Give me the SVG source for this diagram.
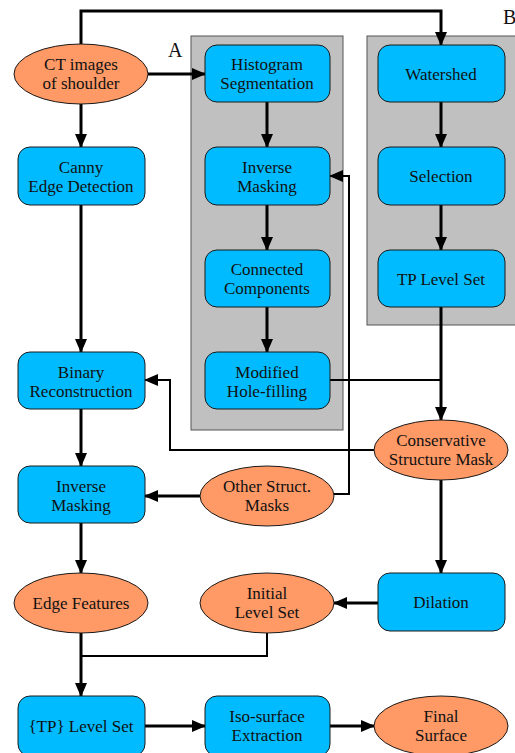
<svg xmlns="http://www.w3.org/2000/svg" width="515" height="753" viewBox="0 0 515 753" font-family="'Liberation Serif', 'Times New Roman', serif">
<style>
.box{fill:#00BBFF;stroke:#1a1a1a;stroke-width:1}
.ell{fill:#FF9966;stroke:#1a1a1a;stroke-width:1}
.grp{fill:#C0C0C0;stroke:#555;stroke-width:1}
text{font-family:"Liberation Serif","Times New Roman",serif;font-size:17px;fill:#111;text-anchor:middle}
.lbl{font-size:20px;text-anchor:start}
.c{fill:none;stroke:#000;stroke-width:3}
.t{fill:none;stroke:#000;stroke-width:2}
</style>
<defs>
<marker id="ah" markerUnits="userSpaceOnUse" markerWidth="14" markerHeight="12" refX="13" refY="6" orient="auto">
<path d="M0,0 L14,6 L0,12 Z" fill="#000"/>
</marker>
</defs>
<rect width="515" height="753" fill="#fff"/>
<g id="groupA"><rect class="grp" x="191" y="36" width="152" height="394"/><text class="lbl" x="168" y="57">A</text></g>
<g id="groupB"><rect class="grp" x="367" y="36" width="152" height="289"/><text class="lbl" x="503" y="24">B</text></g>
<g id="connectors">
<polyline class="c" points="81,44 81,11 441,11 441,45" marker-end="url(#ah)"/>
<line class="c" x1="148" y1="74" x2="205" y2="74" marker-end="url(#ah)"/>
<line class="c" x1="81" y1="104" x2="81" y2="147" marker-end="url(#ah)"/>
<line class="c" x1="81" y1="205" x2="81" y2="352" marker-end="url(#ah)"/>
<line class="c" x1="81" y1="409" x2="81" y2="466" marker-end="url(#ah)"/>
<line class="c" x1="81" y1="523" x2="81" y2="573" marker-end="url(#ah)"/>
<line class="c" x1="81" y1="633" x2="81" y2="696" marker-end="url(#ah)"/>
<polyline class="t" points="267,633 267,656 81,656"/>
<line class="c" x1="145" y1="726" x2="205" y2="726" marker-end="url(#ah)"/>
<line class="c" x1="330" y1="726" x2="374" y2="726" marker-end="url(#ah)"/>
<line class="c" x1="267" y1="102" x2="267" y2="147" marker-end="url(#ah)"/>
<line class="c" x1="267" y1="205" x2="267" y2="250" marker-end="url(#ah)"/>
<line class="c" x1="267" y1="307" x2="267" y2="352" marker-end="url(#ah)"/>
<line class="c" x1="441" y1="102" x2="441" y2="147" marker-end="url(#ah)"/>
<line class="c" x1="441" y1="205" x2="441" y2="250" marker-end="url(#ah)"/>
<line class="c" x1="441" y1="307" x2="441" y2="420" marker-end="url(#ah)"/>
<line class="t" x1="330" y1="380" x2="441" y2="380"/>
<polyline class="t" points="374,450 170,450 170,380 145,380" marker-end="url(#ah)"/>
<line class="c" x1="441" y1="480" x2="441" y2="573" marker-end="url(#ah)"/>
<line class="c" x1="378" y1="603" x2="334" y2="603" marker-end="url(#ah)"/>
<line class="c" x1="200" y1="496" x2="145" y2="496" marker-end="url(#ah)"/>
<polyline class="t" points="334,494 349,494 349,176 330,176" marker-end="url(#ah)"/>
</g>
<g id="ct"><ellipse class="ell" cx="81" cy="74" rx="67" ry="30"/><text x="81" y="70">CT images</text><text x="81" y="89">of shoulder</text></g>
<g id="canny"><rect class="box" x="18" y="147" width="127" height="58" rx="12"/><text x="81" y="173">Canny</text><text x="81" y="192">Edge Detection</text></g>
<g id="binrec"><rect class="box" x="18" y="352" width="127" height="57" rx="12"/><text x="81" y="378">Binary</text><text x="81" y="397">Reconstruction</text></g>
<g id="invmask1"><rect class="box" x="18" y="466" width="127" height="57" rx="12"/><text x="81" y="492">Inverse</text><text x="81" y="511">Masking</text></g>
<g id="edgefeat"><ellipse class="ell" cx="81" cy="603" rx="67" ry="30"/><text x="81" y="609">Edge Features</text></g>
<g id="tplevel"><rect class="box" x="18" y="696" width="127" height="60" rx="12"/><text x="81" y="732">{TP} Level Set</text></g>
<g id="hist"><rect class="box" x="205" y="45" width="125" height="57" rx="12"/><text x="267" y="70">Histogram</text><text x="267" y="89">Segmentation</text></g>
<g id="invmask2"><rect class="box" x="205" y="147" width="125" height="58" rx="12"/><text x="267" y="173">Inverse</text><text x="267" y="192">Masking</text></g>
<g id="conncomp"><rect class="box" x="205" y="250" width="125" height="57" rx="12"/><text x="267" y="275">Connected</text><text x="267" y="294">Components</text></g>
<g id="holefill"><rect class="box" x="205" y="352" width="125" height="57" rx="12"/><text x="267" y="378">Modified</text><text x="267" y="397">Hole-filling</text></g>
<g id="other"><ellipse class="ell" cx="267" cy="496" rx="67" ry="30"/><text x="267" y="492">Other Struct.</text><text x="267" y="511">Masks</text></g>
<g id="initls"><ellipse class="ell" cx="267" cy="603" rx="67" ry="30"/><text x="267" y="599">Initial</text><text x="267" y="618">Level Set</text></g>
<g id="iso"><rect class="box" x="205" y="696" width="125" height="60" rx="12"/><text x="267" y="722">Iso-surface</text><text x="267" y="741">Extraction</text></g>
<g id="watershed"><rect class="box" x="378" y="45" width="127" height="57" rx="12"/><text x="441" y="80">Watershed</text></g>
<g id="selection"><rect class="box" x="378" y="147" width="127" height="58" rx="12"/><text x="441" y="182">Selection</text></g>
<g id="tpls"><rect class="box" x="378" y="250" width="127" height="57" rx="12"/><text x="441" y="285">TP Level Set</text></g>
<g id="csm"><ellipse class="ell" cx="441" cy="450" rx="67" ry="30"/><text x="441" y="446">Conservative</text><text x="441" y="465">Structure Mask</text></g>
<g id="dilation"><rect class="box" x="378" y="573" width="127" height="58" rx="12"/><text x="441" y="608">Dilation</text></g>
<g id="final"><ellipse class="ell" cx="441" cy="726" rx="67" ry="30"/><text x="441" y="722">Final</text><text x="441" y="741">Surface</text></g>
</svg>
